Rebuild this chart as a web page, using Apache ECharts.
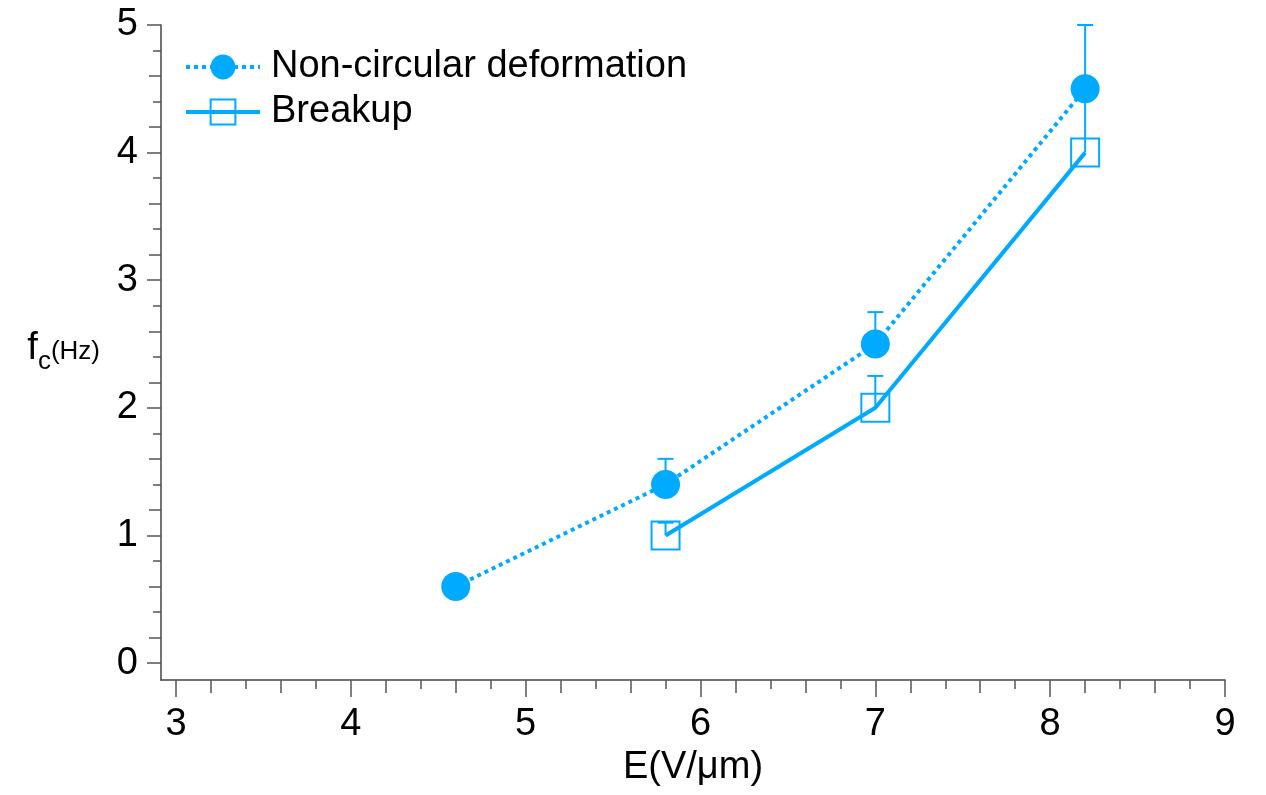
<!DOCTYPE html>
<html>
<head>
<meta charset="utf-8">
<script src="https://cdn.jsdelivr.net/npm/echarts@6/dist/echarts.min.js"></script>
<style>html,body{margin:0;padding:0;background:#fff}#c{width:1266px;height:795px}</style>
</head>
<body>
<div id="c"></div>
<script>
// ---- data ----
const E_NC = [4.6, 5.8, 7.0, 8.2];
const F_NC = [0.6, 1.4, 2.5, 4.5];
const NC_UPPER = [null, 1.6, 2.75, 5.0];
const E_BR = [5.8, 7.0, 8.2];
const F_BR = [1.0, 2.0, 4.0];
const BR_UPPER = [1.1, 2.25, 4.5];
const X_TICKS = [3, 4, 5, 6, 7, 8, 9];
const Y_TICKS = [0, 1, 2, 3, 4, 5];
const X_MINOR_LONG = [3.2, 3.6, 4.2, 4.6, 5.2, 5.6, 6.2, 6.6, 7.2, 7.6, 8.2, 8.6];
const X_MINOR_SHORT = [3.4, 3.8, 4.4, 4.8, 5.4, 5.8, 6.4, 6.8, 7.4, 7.8, 8.4, 8.8];
const Y_MINOR_LONG = [0.2, 0.6, 1.2, 1.6, 2.2, 2.6, 3.2, 3.6, 4.2, 4.6];
const Y_MINOR_SHORT = [0.4, 0.8, 1.4, 1.8, 2.4, 2.8, 3.4, 3.8, 4.4, 4.8];
const NAME_NC = 'Non-circular deformation';
const NAME_BR = 'Breakup';

const COLOR = '#00aaff';
const XMIN = 2.914, XMAX = 9, YMIN = -0.133, YMAX = 5;
const FONT = 'Liberation Sans, Arial, sans-serif';

function pairs(xs, ys) { return xs.map((x, i) => [x, ys[i]]); }
function errData(xs, ys, up) {
  const out = [];
  xs.forEach((x, i) => { if (up[i] != null) out.push([x, ys[i], up[i]]); });
  return out;
}

function errRender(params, api) {
  const x = api.value(0), lo = api.value(1), hi = api.value(2);
  const p0 = api.coord([x, lo]);
  const p1 = api.coord([x, hi]);
  const cap = 8;
  const st = { stroke: COLOR, lineWidth: 2, fill: null };
  return {
    type: 'group',
    children: [
      { type: 'line', shape: { x1: p0[0], y1: p0[1], x2: p1[0], y2: p1[1] }, style: st },
      { type: 'line', shape: { x1: p1[0] - cap, y1: p1[1], x2: p1[0] + cap, y2: p1[1] }, style: st }
    ]
  };
}

function minorX(vals, len) {
  return {
    type: 'value', min: XMIN, max: XMAX, position: 'bottom', gridIndex: 0,
    axisLine: { show: false, onZero: false }, splitLine: { show: false },
    axisLabel: { show: false },
    axisTick: { show: true, length: len, customValues: vals, lineStyle: { color: '#555', width: 1.5 } }
  };
}
function minorY(vals, len) {
  return {
    type: 'value', min: YMIN, max: YMAX, position: 'left', gridIndex: 0,
    axisLine: { show: false, onZero: false }, splitLine: { show: false },
    axisLabel: { show: false },
    axisTick: { show: true, length: len, customValues: vals, lineStyle: { color: '#555', width: 1.5 } }
  };
}

const chart = echarts.init(document.getElementById('c'), null, { renderer: 'canvas' });
chart.setOption({
  animation: false,
  backgroundColor: '#fff',
  textStyle: { fontFamily: FONT },
  grid: { left: 161, right: 41, top: 25, bottom: 115, containLabel: false },
  legend: {
    data: [NAME_NC, NAME_BR],
    orient: 'vertical',
    left: 179, top: 43,
    itemWidth: 74, itemHeight: 31, itemGap: 7,
    lineStyle: { width: 4 },
    textStyle: { fontSize: 38, color: '#000', fontFamily: FONT, padding: [0, 0, 0, 6] }
  },
  xAxis: [
    {
      type: 'value', min: XMIN, max: XMAX, position: 'bottom',
      name: 'E(V/\u03bcm)', nameLocation: 'middle', nameGap: 66,
      nameTextStyle: { fontSize: 38, color: '#000', fontFamily: FONT },
      axisLine: { show: true, onZero: false, lineStyle: { color: '#444', width: 1.5 } },
      axisTick: { show: true, length: 17, customValues: X_TICKS, lineStyle: { color: '#555', width: 1.5 } },
      axisLabel: { show: true, customValues: X_TICKS, margin: 26, fontSize: 38, color: '#000', fontFamily: FONT },
      splitLine: { show: false }
    },
    minorX(X_MINOR_LONG, 13),
    minorX(X_MINOR_SHORT, 9)
  ],
  yAxis: [
    {
      type: 'value', min: YMIN, max: YMAX, position: 'left',
      name: '{f|f}{c|c}{h|(Hz)}', nameLocation: 'middle', nameRotate: 0, nameGap: 61,
      nameTextStyle: {
        align: 'right',
        rich: {
          f: { fontSize: 38, verticalAlign: 'top', color: '#000', fontFamily: FONT },
          c: { fontSize: 26, verticalAlign: 'top', padding: [19, 0, 0, 0], color: '#000', fontFamily: FONT },
          h: { fontSize: 26, verticalAlign: 'top', padding: [9, 0, 0, 0], color: '#000', fontFamily: FONT }
        }
      },
      axisLine: { show: true, onZero: false, lineStyle: { color: '#444', width: 1.5 } },
      axisTick: { show: true, length: 14, customValues: Y_TICKS, lineStyle: { color: '#555', width: 1.5 } },
      axisLabel: { show: true, customValues: Y_TICKS, margin: 23, fontSize: 38, color: '#000', fontFamily: FONT },
      splitLine: { show: false }
    },
    minorY(Y_MINOR_LONG, 12),
    minorY(Y_MINOR_SHORT, 8)
  ],
  series: [
    {
      type: 'custom', name: 'errNC', renderItem: errRender,
      data: errData(E_NC, F_NC, NC_UPPER), z: 1, silent: true,
      encode: { x: 0, y: [1, 2] }
    },
    {
      type: 'custom', name: 'errBR', renderItem: errRender,
      data: errData(E_BR, F_BR, BR_UPPER), z: 1, silent: true,
      encode: { x: 0, y: [1, 2] }
    },
    {
      type: 'line', name: NAME_BR, data: pairs(E_BR, F_BR), z: 3,
      symbol: 'rect', symbolSize: 28,
      itemStyle: { color: 'rgba(0,0,0,0)', borderColor: COLOR, borderWidth: 2 },
      lineStyle: { color: COLOR, width: 4, type: 'solid' }
    },
    {
      type: 'line', name: NAME_NC, data: pairs(E_NC, F_NC), z: 4,
      symbol: 'circle', symbolSize: 29,
      itemStyle: { color: COLOR, borderWidth: 0 },
      lineStyle: { color: COLOR, width: 4, type: [4, 4] }
    }
  ]
});
</script>
</body>
</html>
